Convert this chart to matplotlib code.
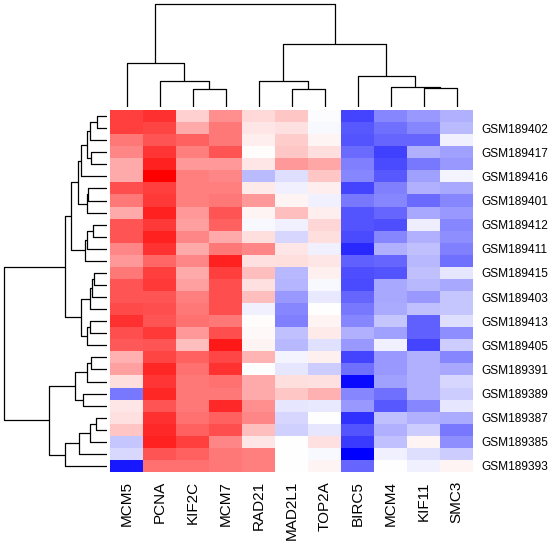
import numpy as np
import matplotlib
matplotlib.use("Agg")
import matplotlib.pyplot as plt
from matplotlib.colors import LinearSegmentedColormap

plt.rcParams['font.family'] = ['Liberation Sans', 'DejaVu Sans']

# genes (columns) in dendrogram order
genes = ['MCM5', 'PCNA', 'KIF2C', 'MCM7', 'RAD21', 'MAD2L1', 'TOP2A',
         'BIRC5', 'MCM4', 'KIF11', 'SMC3']

# only every other sample label is visible in the original
sample_rows = [1, 3, 5, 7, 9, 11, 13, 15, 17, 19, 21, 23, 25, 27, 29]
samples = ['GSM189402', 'GSM189417', 'GSM189416', 'GSM189401', 'GSM189412',
           'GSM189411', 'GSM189415', 'GSM189403', 'GSM189413', 'GSM189405',
           'GSM189391', 'GSM189389', 'GSM189387', 'GSM189385', 'GSM189393']

# scaled expression, rows top to bottom
expr = np.array([
    [0.75, 0.81, 0.18, 0.44, 0.15, 0.22, -0.01, -0.73, -0.47, -0.40, -0.31],
    [0.75, 0.73, 0.33, 0.53, 0.10, 0.12, -0.03, -0.65, -0.56, -0.47, -0.27],
    [0.53, 0.67, 0.62, 0.53, 0.07, 0.20, 0.04, -0.67, -0.60, -0.60, -0.06],
    [0.47, 0.79, 0.50, 0.67, 0.01, 0.22, 0.13, -0.58, -0.75, -0.31, -0.37],
    [0.33, 0.87, 0.40, 0.40, 0.10, 0.40, 0.35, -0.50, -0.71, -0.53, -0.40],
    [0.33, 1.00, 0.50, 0.47, -0.27, -0.13, 0.22, -0.47, -0.65, -0.37, -0.04],
    [0.69, 0.75, 0.50, 0.50, 0.08, -0.06, 0.07, -0.73, -0.50, -0.31, -0.34],
    [0.53, 0.78, 0.50, 0.53, 0.40, 0.04, -0.06, -0.53, -0.47, -0.58, -0.47],
    [0.33, 0.87, 0.40, 0.67, 0.04, 0.25, 0.07, -0.67, -0.60, -0.34, -0.40],
    [0.67, 0.78, 0.37, 0.62, -0.03, -0.06, 0.16, -0.67, -0.69, -0.07, -0.47],
    [0.67, 0.87, 0.47, 0.33, 0.13, -0.16, 0.13, -0.71, -0.47, -0.31, -0.44],
    [0.47, 0.80, 0.33, 0.53, 0.47, 0.10, -0.06, -0.84, -0.31, -0.25, -0.50],
    [0.40, 0.60, 0.47, 0.87, 0.12, 0.13, 0.10, -0.62, -0.60, -0.28, -0.56],
    [0.53, 0.75, 0.33, 0.75, 0.25, -0.28, 0.06, -0.69, -0.67, -0.25, -0.10],
    [0.67, 0.78, 0.37, 0.69, 0.12, -0.29, -0.03, -0.71, -0.34, -0.28, -0.34],
    [0.67, 0.67, 0.50, 0.69, 0.25, -0.40, -0.09, -0.60, -0.34, -0.40, -0.22],
    [0.71, 0.69, 0.53, 0.69, -0.06, -0.47, 0.00, -0.53, -0.33, -0.25, -0.22],
    [0.81, 0.67, 0.56, 0.53, 0.01, -0.50, 0.04, -0.47, -0.22, -0.62, -0.13],
    [0.69, 0.78, 0.40, 0.69, 0.03, -0.25, 0.08, -0.31, -0.37, -0.62, -0.44],
    [0.65, 0.67, 0.25, 0.90, 0.04, -0.28, -0.12, -0.40, -0.06, -0.73, -0.20],
    [0.31, 0.73, 0.62, 0.72, 0.29, -0.04, 0.06, -0.73, -0.40, -0.31, -0.47],
    [0.37, 0.85, 0.56, 0.80, 0.00, -0.10, -0.20, -0.56, -0.40, -0.31, -0.34],
    [0.13, 0.79, 0.53, 0.56, 0.33, 0.13, 0.12, -0.96, -0.37, -0.31, -0.16],
    [-0.53, 0.85, 0.53, 0.53, 0.33, 0.22, 0.31, -0.47, -0.56, -0.31, -0.20],
    [0.10, 0.67, 0.53, 0.84, 0.44, -0.10, -0.09, -0.40, -0.65, -0.47, -0.10],
    [0.12, 0.81, 0.56, 0.62, 0.47, -0.16, 0.00, -0.81, -0.25, -0.31, -0.33],
    [0.23, 0.84, 0.62, 0.69, 0.25, -0.18, -0.10, -0.67, -0.31, -0.20, -0.53],
    [-0.22, 0.87, 0.75, 0.47, 0.10, 0.00, 0.12, -0.77, -0.25, 0.04, -0.44],
    [-0.15, 0.67, 0.62, 0.53, 0.50, 0.00, -0.03, -1.00, -0.06, -0.13, -0.20],
    [-0.90, 0.56, 0.56, 0.53, 0.50, 0.00, 0.04, -0.60, 0.00, -0.06, 0.04],
])

# merges: (name, left, right, height); ints are leaves in display order
row_merges = [
    ('A', 0, 1, 1.00), ('B', 'A', 2, 1.70), ('C', 3, 4, 1.60),
    ('D', 'B', 'C', 2.00), ('E', 'D', 5, 2.60), ('F', 6, 7, 1.93),
    ('G', 'F', 8, 2.00), ('H', 'E', 'G', 2.90), ('I', 9, 10, 1.40),
    ('J', 'I', 11, 2.00), ('K', 'J', 12, 2.20), ('L', 'H', 'K', 3.60),
    ('M', 13, 14, 1.30), ('N', 'M', 15, 1.50), ('O', 'N', 16, 1.73),
    ('P', 17, 18, 1.73), ('Q', 'P', 19, 2.00), ('R', 'O', 'Q', 2.60),
    ('S', 'L', 'R', 4.20), ('T', 20, 21, 1.60), ('U', 'T', 22, 2.00),
    ('V', 23, 24, 2.40), ('W', 'U', 'V', 3.20), ('X', 25, 26, 1.10),
    ('Y', 'X', 27, 1.70), ('Z', 'Y', 28, 2.80), ('AA', 'Z', 29, 4.20),
    ('AB', 'W', 'AA', 5.87), ('root', 'S', 'AB', 10.33),
]

col_merges = [
    ('c1', 2, 3, 1.83), ('c2', 1, 'c1', 2.57), ('c3', 0, 'c2', 4.37),
    ('c4', 5, 6, 1.77), ('c5', 4, 'c4', 2.57), ('c6', 9, 10, 1.87),
    ('c7', 8, 'c6', 1.97), ('c8', 7, 'c7', 3.07), ('c9', 'c5', 'c8', 6.27),
    ('root', 'c3', 'c9', 10.27),
]


def draw_dendro(ax, merges, vertical):
    nodes = {}
    def get(k):
        if isinstance(k, str):
            return nodes[k]
        return (k + 0.5, 0.0)
    for name, a, b, h in merges:
        pa, ha = get(a)
        pb, hb = get(b)
        p = [pa, pa, pb, pb]
        q = [ha, h, h, hb]
        if vertical:
            ax.plot(p, q, color='black', lw=0.9, solid_capstyle='butt')
        else:
            ax.plot(q, p, color='black', lw=0.9, solid_capstyle='butt')
        nodes[name] = ((pa + pb) / 2, h)
    return nodes['root'][1]


W, H = 553, 552
fig = plt.figure(figsize=(W / 100, H / 100), dpi=100, facecolor='white')

cmap = LinearSegmentedColormap.from_list('bwr_r', ['#0000FF', '#FFFFFF', '#FF0000'])

nr, nc = expr.shape
ax = fig.add_axes([110 / W, 1 - 472 / H, 363 / W, 362 / H])
ax.pcolormesh(np.arange(nc + 1), np.arange(nr + 1), expr, cmap=cmap,
              vmin=-1, vmax=1)
ax.set_xlim(0, nc)
ax.set_ylim(nr, 0)
ax.set_xticks(np.arange(nc) + 0.5)
ax.set_xticklabels(genes, rotation=90, fontsize=11, va='top')
ax.yaxis.tick_right()
ax.set_yticks(np.array(sample_rows) + 0.5)
ax.set_yticklabels(samples, fontsize=8.6)
ax.tick_params(axis='x', length=0, pad=6.5)
ax.tick_params(axis='y', length=0, pad=6.3)
for s in ax.spines.values():
    s.set_visible(False)

# row dendrogram on the left
axr = fig.add_axes([0, 1 - 472 / H, 107.3 / W, 362 / H])
rtop = draw_dendro(axr, row_merges, vertical=False)
axr.set_xlim(rtop * 1.039, 0)
axr.set_ylim(nr, 0)
axr.axis('off')

# column dendrogram on top
axc = fig.add_axes([110 / W, 1 - 107 / H, 363 / W, 107 / H])
ctop = draw_dendro(axc, col_merges, vertical=True)
axc.set_xlim(0, nc)
axc.set_ylim(0, ctop * 1.042)
axc.axis('off')

fig.savefig('out.png', dpi=100, facecolor='white')
